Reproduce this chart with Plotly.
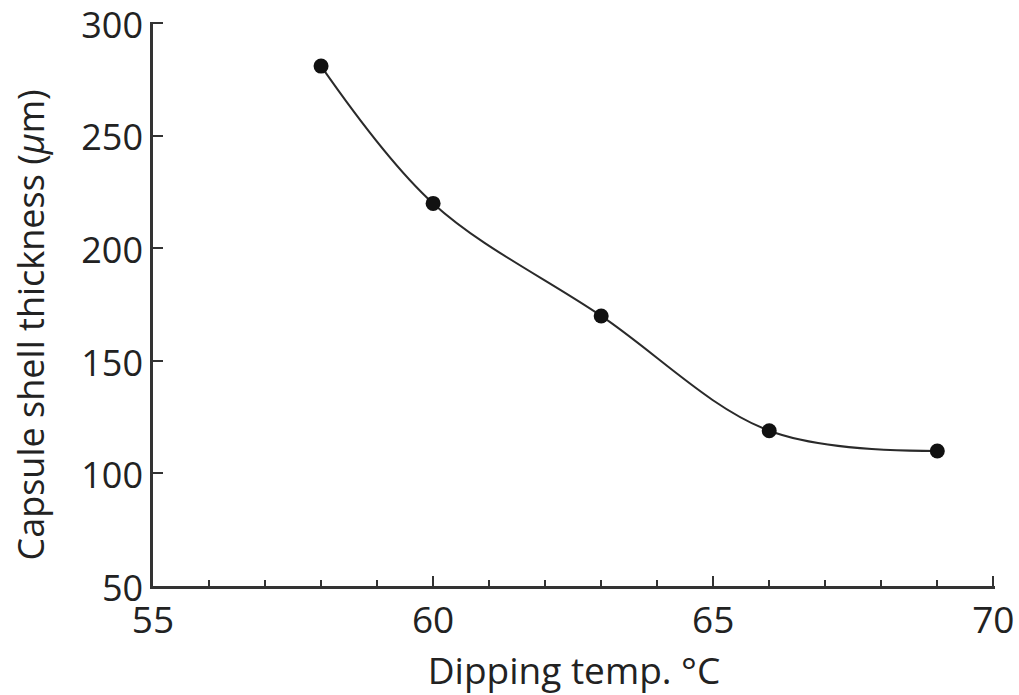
import plotly.graph_objects as go

temps = [58, 60, 63, 66, 69]
thickness = [281, 220, 170, 119, 110]

x_ticks = [55, 60, 65, 70]
y_ticks = [50, 100, 150, 200, 250, 300]

x_title = "Dipping temp. °C"
y_title = "Capsule shell thickness (<i>μ</i>m)"

font_family = "Open Sans"
axis_color = "#333333"
text_color = "#222222"

fig = go.Figure()
fig.add_trace(go.Scatter(
    x=temps, y=thickness,
    mode="lines+markers",
    line=dict(shape="spline", smoothing=1.0, color="#2a2a2a", width=2),
    marker=dict(size=15, color="#111111"),
    showlegend=False,
))

fig.update_layout(
    width=1019, height=695,
    margin=dict(l=153, r=24, t=22, b=109),
    paper_bgcolor="white", plot_bgcolor="white",
    font=dict(family=font_family, color=text_color, size=32),
)

fig.update_xaxes(
    range=[55, 70.03], tickvals=x_ticks,
    automargin=False, ticklabeloverflow="allow",
    showgrid=False, zeroline=False,
    showline=True, linecolor=axis_color, linewidth=2.5,
    ticks="inside", ticklen=10, tickwidth=2, tickcolor=axis_color,
    minor=dict(dtick=1, ticks="inside", ticklen=6, tickwidth=1.5, tickcolor=axis_color, showgrid=False),
    tickfont=dict(size=37, family=font_family, color=text_color),
    title=dict(text=x_title, font=dict(size=37, family=font_family, color=text_color), standoff=12),
)
fig.update_yaxes(
    range=[50, 300.6], tickvals=y_ticks,
    automargin=False, ticklabeloverflow="allow", ticklabelshift=2,
    showgrid=False, zeroline=False,
    showline=True, linecolor=axis_color, linewidth=2.5,
    ticks="inside", ticklen=10, tickwidth=2, tickcolor=axis_color,
    tickfont=dict(size=36, family=font_family, color=text_color),
)

# y-axis title as a rotated annotation (reference centres it slightly below the plot middle)
fig.add_annotation(
    text=y_title, textangle=-90,
    xref="paper", yref="paper", x=-0.146, y=0.462,
    xanchor="center", yanchor="middle", showarrow=False,
    font=dict(size=36, family=font_family, color=text_color),
)

fig.write_html(
    "out.html",
    config={"displayModeBar": False},
    post_script="document.body.style.margin='0';document.body.style.overflow='hidden';",
)
